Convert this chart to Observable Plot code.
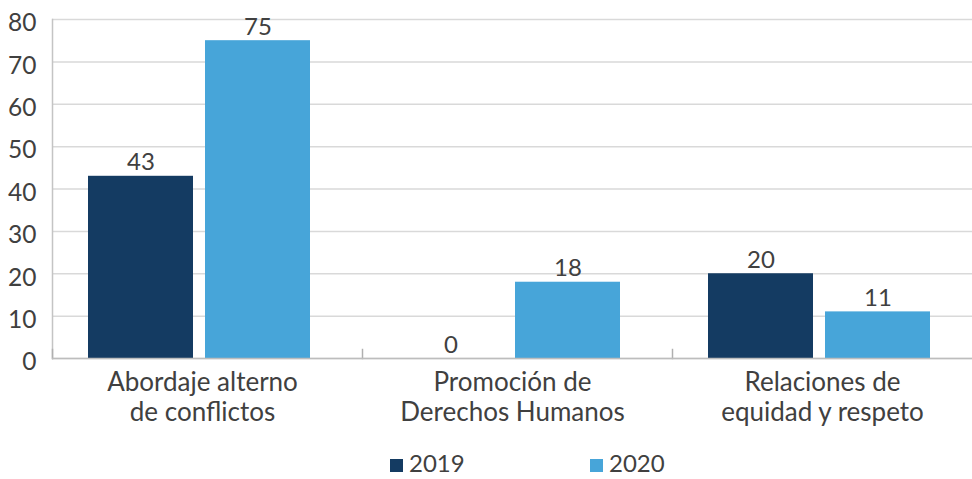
<!DOCTYPE html>
<html>
<head>
<meta charset="utf-8">
<script src="https://cdn.jsdelivr.net/npm/d3@7"></script>
<script src="https://cdn.jsdelivr.net/npm/@observablehq/plot@0.6"></script>
<style>
  html, body { margin: 0; padding: 0; background: white; }
  #chart { width: 972px; overflow: hidden; }
  .legend { position: relative; height: 39px; width: 972px; font-family: Lato, sans-serif; font-size: 24px; color: #404040; }
  .legend .sw { position: absolute; top: 19px; width: 13px; height: 13px; }
  .legend .lbl { position: absolute; top: 10px; line-height: 26px; white-space: nowrap; }
</style>
</head>
<body>
<div id="chart"></div>
<script>
const categories = ["Abordaje alterno\nde conflictos", "Promoción de\nDerechos Humanos", "Relaciones de\nequidad y respeto"];
const years = ["2019", "2020"];
const values2019 = [43, 0, 20];
const values2020 = [75, 18, 11];
const yTicks = [0, 10, 20, 30, 40, 50, 60, 70, 80];
const colors = ["#143b62", "#47a5d9"];

const data = categories.flatMap((c, i) => [
  {category: c, year: years[0], value: values2019[i]},
  {category: c, year: years[1], value: values2020[i]}
]);

const chart = Plot.plot({
  width: 972,
  height: 440,
  marginLeft: 51,
  marginRight: -10,
  marginTop: 19,
  marginBottom: 82,
  style: {fontFamily: "Lato, sans-serif", fontSize: "24px", color: "#404040", background: "white", overflow: "hidden"},
  fx: {domain: categories, padding: 0, axis: null},
  x: {domain: years, paddingInner: 0.102, paddingOuter: 0.366, align: 0.41, axis: null},
  y: {domain: [0, 80], axis: null},
  color: {domain: years, range: colors},
  marks: [
    Plot.gridY(yTicks, {stroke: "#d9d9d9", strokeOpacity: 1, strokeWidth: 1.5}),
    Plot.axisY(yTicks, {tickSize: 0, tickPadding: 16, label: null, fontSize: 24.5, dy: 4, fill: "#404040"}),
    Plot.frame({anchor: "left", stroke: "#c4c4c4", strokeWidth: 1.5, facetAnchor: "left"}),
    Plot.frame({anchor: "left", stroke: "#b0b0b0", strokeWidth: 1.5, insetTop: 330}),
    Plot.barY(data, {fx: "category", x: "year", y: "value", fill: "year"}),
    Plot.ruleY([0], {stroke: "#bdbdbd", strokeWidth: 1.5}),
    Plot.text(data, {fx: "category", x: "year", y: "value", text: d => String(d.value), lineAnchor: "bottom", dy: -6, fontSize: 24, fill: "#404040"}),
    Plot.text(categories, {fx: d => d, frameAnchor: "bottom", lineAnchor: "top", dy: 11.5, dx: -5, text: d => d, fontSize: 26, lineHeight: 1.15, fill: "#404040"})
  ]
});
document.getElementById("chart").appendChild(chart);

const legend = document.createElement("div");
legend.className = "legend";
const legendX = [390, 590];
years.forEach((y, i) => {
  const sw = document.createElement("span");
  sw.className = "sw";
  sw.style.left = legendX[i] + "px";
  sw.style.background = colors[i];
  const t = document.createElement("span");
  t.className = "lbl";
  t.style.left = (legendX[i] + 19) + "px";
  t.textContent = y;
  legend.appendChild(sw);
  legend.appendChild(t);
});
document.body.appendChild(legend);
</script>
</body>
</html>
